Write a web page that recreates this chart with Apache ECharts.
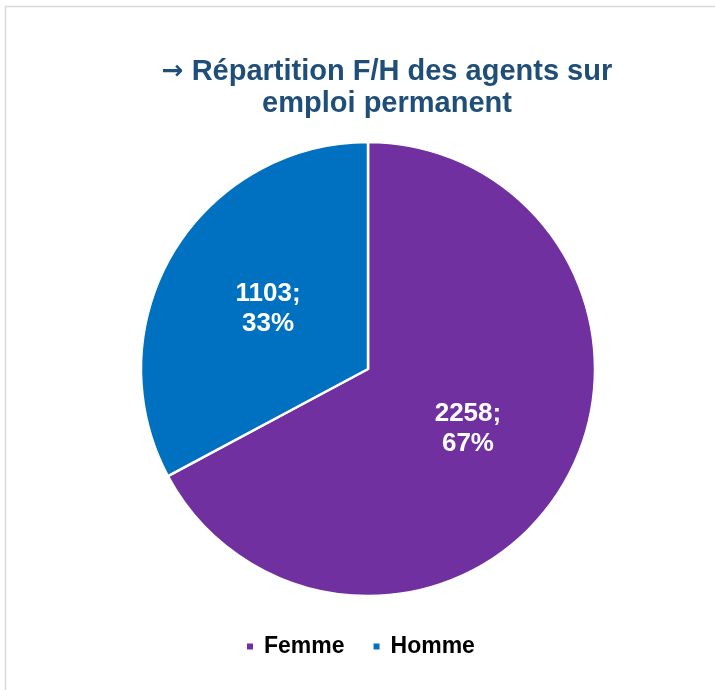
<!DOCTYPE html>
<html><head><meta charset="utf-8">
<script src="https://cdn.jsdelivr.net/npm/echarts@6/dist/echarts.min.js"></script>
<style>html,body{margin:0;padding:0;background:#fff}#c{width:715px;height:690px}</style>
</head><body><div id="c"></div>
<script>
const categories = ['Femme', 'Homme'];
const values = [2258, 1103];
const colors = ['#7030A0', '#0070C0'];

const chart = echarts.init(document.getElementById('c'));
chart.setOption({
  backgroundColor: '#fff',
  animation: false,
  graphic: [{
    type: 'rect', shape: {x: 5.5, y: 6.5, width: 720, height: 700},
    style: {fill: 'none', stroke: '#D9D9D9', lineWidth: 1.5}, silent: true
  }],
  title: {
    text: '{a|→} Répartition F/H des agents sur\nemploi permanent',
    left: 382, top: 51, textAlign: 'center',
    textStyle: {fontFamily: 'Liberation Sans, Arial', fontSize: 29, fontWeight: 'bold', color: '#1F4E79', lineHeight: 32,
      rich: {a: {fontFamily: 'DejaVu Sans', fontSize: 26, fontWeight: 'bold', color: '#1F4E79', lineHeight: 32}}}
  },
  legend: {
    top: 630, left: 240, itemWidth: 8, itemHeight: 8, itemGap: 27, icon: 'rect',
    textStyle: {fontFamily: 'Liberation Sans, Arial', fontSize: 23, fontWeight: 'bold', color: '#000', padding: [0, 0, 0, 5]},
    data: categories
  },
  series: [{
    type: 'pie', center: [368, 369], radius: 227, startAngle: 90, clockwise: true,
    itemStyle: {borderColor: '#fff', borderWidth: 2.5},
    label: {
      position: 'inside', color: '#fff', fontFamily: 'Liberation Sans, Arial', fontSize: 26, fontWeight: 'bold', lineHeight: 30,
      formatter: p => p.value + ';\n' + Math.round(p.percent) + '%'
    },
    labelLine: {show: false},
    data: categories.map((n, i) => ({name: n, value: values[i], itemStyle: {color: colors[i]}}))
  }]
});
</script></body></html>
